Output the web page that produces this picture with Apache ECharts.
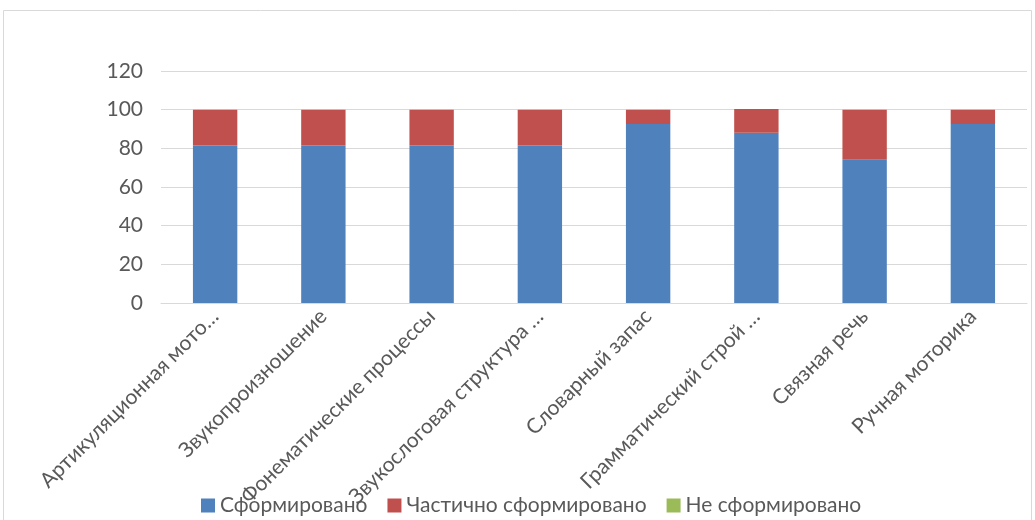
<!DOCTYPE html>
<html><head><meta charset="utf-8">
<script src="https://cdn.jsdelivr.net/npm/echarts@6/dist/echarts.min.js"></script>
<style>html,body{margin:0;padding:0;background:#fff}#c{width:1035px;height:520px}</style>
</head><body><div id="c"></div>
<script>
var categories = ['Артикуляционная мото…','Звукопроизношение','Фонематические процессы','Звукослоговая структура …','Словарный запас','Грамматический строй …','Связная речь','Ручная моторика'];
var seriesNames = ['Сформировано','Частично сформировано','Не сформировано'];
var formed = [81.5, 81.5, 81.5, 81.5, 92.6, 88, 74.1, 92.6];
var partial = [18.5, 18.5, 18.5, 18.5, 7.4, 12.4, 25.9, 7.4];
var notFormed = [0, 0, 0, 0, 0, 0, 0, 0];
var yTicks = {min: 0, max: 120, interval: 20};
var colors = ['#4f81bd', '#c0504d', '#9bbb59'];
var font = 'Lato, Carlito, "Open Sans", sans-serif';
var chart = echarts.init(document.getElementById('c'));
chart.setOption({
  animation: false,
  color: colors,
  graphic: [{type: 'rect', shape: {x: 3.5, y: 10.5, width: 1028, height: 520}, style: {fill: 'none', stroke: '#d9d9d9', lineWidth: 1}, silent: true}],
  grid: {left: 161, right: 8, top: 71, bottom: 217, containLabel: false},
  legend: {
    bottom: -1, left: 196, itemWidth: 14, itemHeight: 14, itemGap: 20, icon: 'rect',
    textStyle: {fontFamily: font, fontSize: 21, color: '#595959'},
    data: seriesNames
  },
  xAxis: {
    type: 'category', data: categories,
    axisLine: {lineStyle: {color: '#d9d9d9', width: 1}},
    axisTick: {show: false},
    axisLabel: {interval: 0, rotate: 45, fontFamily: font, fontSize: 21, color: '#595959', margin: 10}
  },
  yAxis: {
    type: 'value', min: yTicks.min, max: yTicks.max, interval: yTicks.interval,
    axisLine: {show: false}, axisTick: {show: false},
    splitLine: {lineStyle: {color: '#d9d9d9', width: 1}},
    axisLabel: {fontFamily: font, fontSize: 21, color: '#595959', margin: 18}
  },
  series: [
    {name: seriesNames[0], type: 'bar', stack: 's', data: formed, barWidth: '41%'},
    {name: seriesNames[1], type: 'bar', stack: 's', data: partial, barWidth: '41%'},
    {name: seriesNames[2], type: 'bar', stack: 's', data: notFormed, barWidth: '41%'}
  ]
});
</script></body></html>
